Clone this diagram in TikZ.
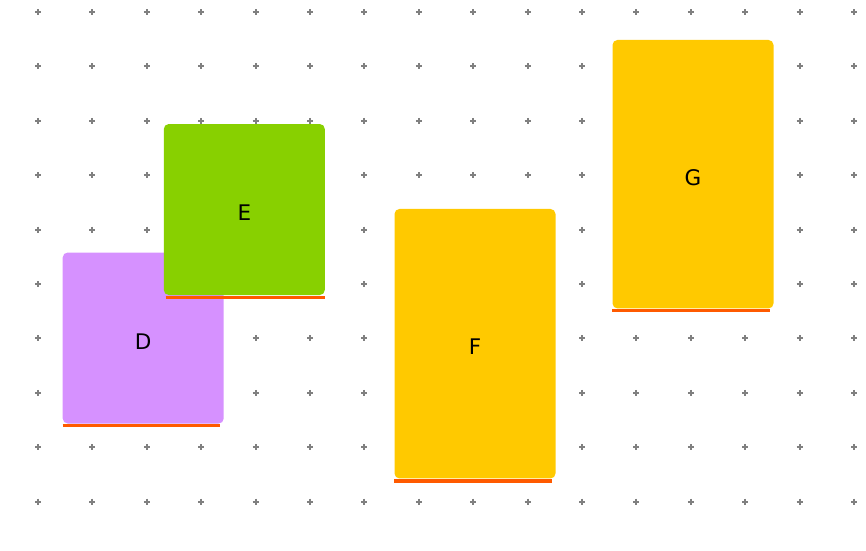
\documentclass[tikz,border=0pt]{standalone}
\usepackage{fontspec}
\setmainfont{DejaVu Sans}
\usetikzlibrary{calc}

\definecolor{lilac}{RGB}{214,145,255}
\definecolor{lime}{RGB}{136,208,0}
\definecolor{amber}{RGB}{255,201,0}
\definecolor{rust}{RGB}{255,90,0}
\definecolor{dotgray}{RGB}{128,128,128}

\tikzset{
  card/.style={rectangle, rounded corners=5pt, inner sep=0pt, minimum width=161pt,
    text height=22pt, text depth=0pt, font=\fontsize{21.5}{24}\selectfont},
  baseline/.style={rust, line width=3.5pt},
  dot/.style={dotgray, line width=2pt}
}

\begin{document}
\begin{tikzpicture} [x=1pt,y=-1pt]

\useasboundingbox (0,0) rectangle (866,550);

% grid of small crosses
\foreach \i in {0,...,15}
  \foreach \j in {0,...,9}
    \draw[dot] ($(38+54.4*\i,12+54.4*\j)+(-3,0)$) -- +(6,0)
               ($(38+54.4*\i,12+54.4*\j)+(0,-3)$) -- +(0,6);

\node[card, fill=lilac, minimum height=171pt] (D) at (143.2,338) {D};
\draw[baseline] ($(D.south west)+(0,2)$) -- ($(D.south east)+(-4,2)$);

\node[card, fill=lime, minimum height=171pt] (E) at (244.3,209.5) {E};
\draw[baseline] ($(E.south west)+(2,2.5)$) -- ($(E.south east)+(0,2.5)$);

\node[card, fill=amber, minimum height=269.5pt] (F) at (475,343.7) {F};
\draw[baseline] ($(F.south west)+(0,2.5)$) -- ($(F.south east)+(-3.5,2.5)$);

\node[card, fill=amber, minimum height=268.5pt] (G) at (693,174.2) {G};
\draw[baseline] ($(G.south west)+(0,2)$) -- ($(G.south east)+(-3.5,2)$);

\end{tikzpicture}
\end{document}
